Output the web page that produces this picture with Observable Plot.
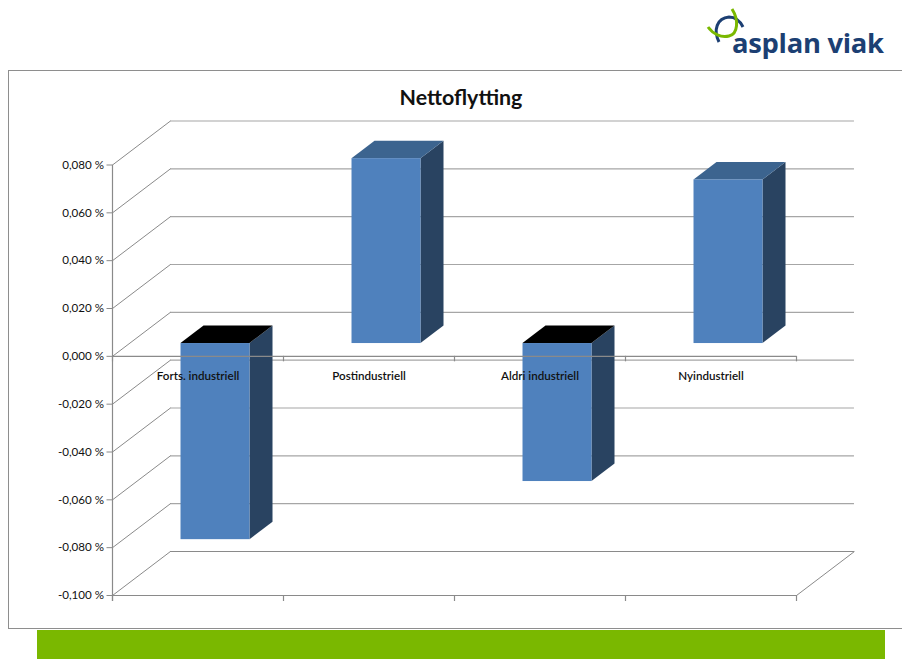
<!DOCTYPE html>
<html lang="no">
<head>
<meta charset="utf-8">
<title>Nettoflytting</title>
<script src="https://cdn.jsdelivr.net/npm/d3@7"></script>
<script src="https://cdn.jsdelivr.net/npm/@observablehq/plot@0.6"></script>
<style>
  html, body { margin: 0; padding: 0; background: #fff; }
  body { position: relative; width: 902px; height: 659px; overflow: hidden; font-family: Lato, "Open Sans", sans-serif; }
  #frame { position: absolute; left: 8px; top: 70px; width: 900px; height: 557px; border: 1.5px solid #8e8e8e; box-sizing: content-box; }
  #band { position: absolute; left: 37px; top: 630px; width: 848px; height: 29px; background: #7ab800; }
  #chart { position: absolute; left: 0; top: 0; }
  #chart svg { background: transparent; overflow: visible; display: block; }
  #title { position: absolute; left: 0; width: 922px; top: 84px; margin: 0; text-align: center; font: 700 21.4px/26px Lato, sans-serif; color: #111; }
  #logo { position: absolute; left: 705px; top: 6px; }
  #logoText { position: absolute; left: 732px; top: 24px; font: 700 27.4px/38px "Open Sans", sans-serif; letter-spacing: -0.3px; color: #1c3f73; white-space: nowrap; }
</style>
</head>
<body>
<div id="frame"></div>
<div id="band"></div>
<div id="chart"></div>
<h1 id="title">Nettoflytting</h1>
<svg id="logo" width="50" height="42" viewBox="0 0 50 42" aria-hidden="true">
  <path d="M14 36 C8 24 12 12 24 11 C30 11 35 15 38 21" fill="none" stroke="#1c3f73" stroke-width="3"/>
  <path d="M3 21 C8 28 16 32 24 30 C33 28 34 14 27 3" fill="none" stroke="#7ab800" stroke-width="3"/>
</svg>
<div id="logoText">asplan viak</div>
<script>
const categories = ["Forts. industriell", "Postindustriell", "Aldri industriell", "Nyindustriell"];
const values = [-0.082, 0.0773, -0.0577, 0.0684];
const yTicks = [-0.1, -0.08, -0.06, -0.04, -0.02, 0, 0.02, 0.04, 0.06, 0.08];
const xTicks = [0, 1, 2, 3, 4];

// Oblique projection of the 3D chart, in data units (categories, value)
const wallDx = 0.339, wallDy = 0.0184;
const frontDx = 0.1024, frontDy = 0.00535;
const sideDx = 0.1345, sideDy = 0.0073;
const barWidth = 0.4035;

const bars = categories.map((name, i) => {
  const x1 = i + 0.5 - barWidth / 2 + frontDx;
  return {name, i, value: values[i], x1, x2: x1 + barWidth, base: frontDy, end: values[i] + frontDy};
});
const sidePts = bars.flatMap(b => [
  {i: b.i, x: b.x2, lo: b.base, hi: b.end},
  {i: b.i, x: b.x2 + sideDx, lo: b.base + sideDy, hi: b.end + sideDy}
]);
const topPts = bars.flatMap(b => {
  const level = Math.max(b.base, b.end);
  return [
    {i: b.i, value: b.value, y: level, xa: b.x1, xb: b.x2},
    {i: b.i, value: b.value, y: level + sideDy, xa: b.x1 + sideDx, xb: b.x2 + sideDx}
  ];
});

const gridColor = "#a6a6a6", axisColor = "#8a8a8a";
const fmt = v => (v < 0 ? "-" : "") + Math.abs(v).toFixed(3).replace(".", ",") + " %";

const plot = Plot.plot({
  width: 902, height: 659,
  marginLeft: 112, marginRight: 106, marginTop: 164.5, marginBottom: 64,
  x: {domain: [0, 4], axis: null},
  y: {domain: [-0.1, 0.08], axis: null},
  style: {background: "transparent"},
  marks: [
    // back wall grid and side-wall connectors
    Plot.ruleY(yTicks, {y: t => t + wallDy, x1: () => wallDx, x2: () => 4 + wallDx, stroke: t => t === -0.1 ? axisColor : gridColor, strokeWidth: 1.2}),
    Plot.link(yTicks, {x1: () => 0, y1: t => t, x2: () => wallDx, y2: t => t + wallDy, stroke: axisColor, strokeWidth: 1}),
    Plot.link([-0.1], {x1: () => 4, y1: t => t, x2: () => 4 + wallDx, y2: t => t + wallDy, stroke: axisColor, strokeWidth: 1}),
    // bars: side, top, front
    Plot.areaY(sidePts, {x: "x", y1: "lo", y2: "hi", z: "i", fill: "#294361"}),
    Plot.areaX(topPts.filter(d => d.value >= 0), {y: "y", x1: "xa", x2: "xb", z: "i", fill: "#3c648f"}),
    Plot.areaX(topPts.filter(d => d.value < 0), {y: "y", x1: "xa", x2: "xb", z: "i", fill: "#000000"}),
    Plot.rect(bars, {x1: "x1", x2: "x2", y1: "base", y2: "end", fill: "#4f81bd", inset: 0}),
    // axes
    Plot.ruleY([0, -0.1], {x1: () => 0, x2: () => 4, stroke: axisColor, strokeWidth: 1.2}),
    Plot.ruleX([0], {y1: () => -0.1025, y2: () => 0.08, stroke: axisColor, strokeWidth: 1.2}),
    Plot.ruleX(xTicks, {y1: () => -0.1, y2: () => -0.1025, stroke: axisColor, strokeWidth: 1.2}),
    Plot.ruleX(xTicks, {y1: () => 0, y2: () => -0.0023, stroke: axisColor, strokeWidth: 1.2}),
    Plot.axisY(yTicks, {
      anchor: "left", tickSize: 5.5, tickPadding: 3, label: null, stroke: axisColor,
      tickFormat: fmt, fontSize: 11.6, fontFamily: "Lato, sans-serif", fill: "#111"
    }),
    // category labels
    Plot.text(bars, {
      x: d => d.i + 0.5, y: () => -0.0082, text: "name",
      fontSize: 11.6, fontWeight: 600, fontFamily: "Lato, sans-serif", fill: "#111"
    })
  ]
});
document.getElementById("chart").appendChild(plot);
</script>
</body>
</html>
